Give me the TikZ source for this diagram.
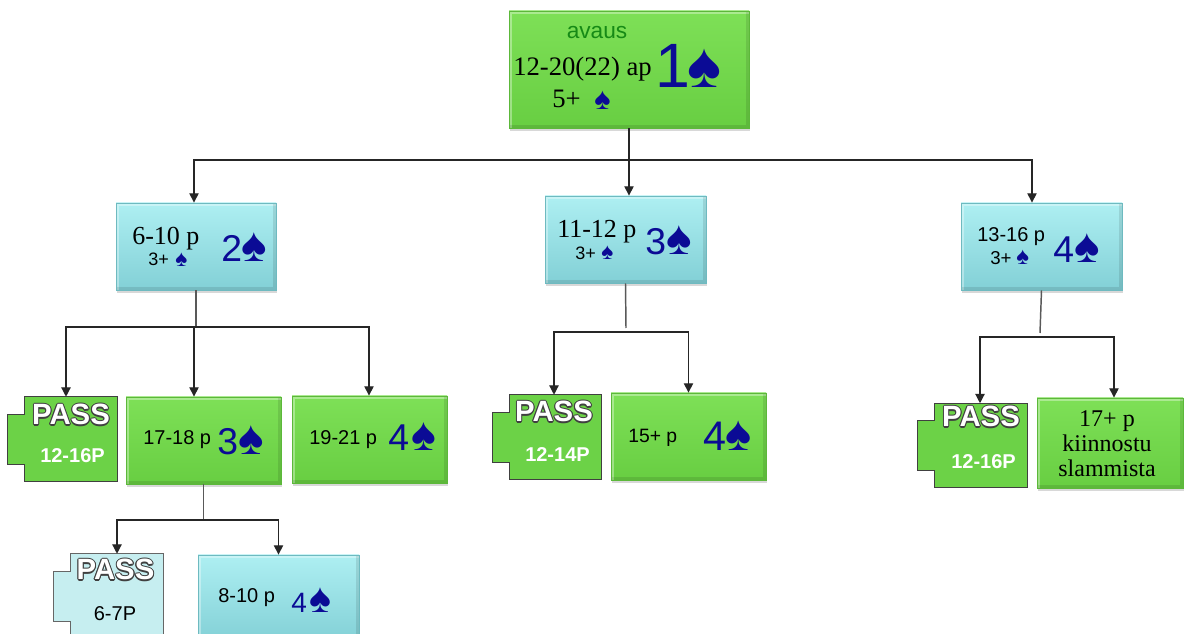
\documentclass[tikz,border=0pt]{standalone}
\usepackage{fontspec}
\setmainfont{Liberation Serif}
\setsansfont{Liberation Sans}
\newfontfamily\spd{Liberation Sans}
\usetikzlibrary{arrows.meta,shadows,calc}
\definecolor{gbt}{HTML}{7EE057}
\definecolor{gbb}{HTML}{68CE42}
\definecolor{gbd}{HTML}{5CB83A}
\definecolor{cbt}{HTML}{AEEFF2}
\definecolor{cbb}{HTML}{82D0D6}
\definecolor{cbd}{HTML}{6EBAC0}
\definecolor{pg}{HTML}{6CD247}
\definecolor{pc}{HTML}{C6EEF0}
\definecolor{bl}{HTML}{0B0B95}
\definecolor{av}{HTML}{168A16}
\definecolor{od}{HTML}{404040}
\newcommand\fsz[1]{\fontsize{#1}{#1}\selectfont}
\newcommand\outl[1]{\leavevmode\rlap{\color{od}\kern-0.8pt#1}\rlap{\color{od}\kern0.8pt#1}\rlap{\color{od}\raisebox{0.8pt}{#1}}\rlap{\color{od}\raisebox{-0.8pt}{#1}}\rlap{\color{od}\kern-0.6pt\raisebox{0.6pt}{#1}}\rlap{\color{od}\kern0.6pt\raisebox{0.6pt}{#1}}\rlap{\color{od}\kern-0.6pt\raisebox{-0.6pt}{#1}}\rlap{\color{od}\kern0.6pt\raisebox{-0.6pt}{#1}}{\color{white}#1}}
\newcommand\passpath[2]{\filldraw[#2] (#1.north west) -- (#1.north east) -- (#1.south east) -- (#1.south west) -- ++(0,-17) -- ++(-17,0) -- ++(0,-50) -- ++(17,0) -- cycle;}
\tikzset{
  bevel/.style={path picture={
    \draw[white, opacity=0.35, line width=4pt] (path picture bounding box.south west) -- (path picture bounding box.north west) -- (path picture bounding box.north east);
    \draw[black, opacity=0.10, line width=4pt] (path picture bounding box.north east) -- (path picture bounding box.south east) -- (path picture bounding box.south west);}},
  gbox/.style={rectangle, inner sep=0pt, top color=gbt, bottom color=gbb, draw=gbd, line width=0.6pt, bevel,
    drop shadow={shadow xshift=1pt, shadow yshift=-2pt, opacity=0.3}},
  cbox/.style={rectangle, inner sep=0pt, top color=cbt, bottom color=cbb, draw=cbd, line width=0.6pt, bevel,
    drop shadow={shadow xshift=1pt, shadow yshift=-2pt, opacity=0.3}},
  pbody/.style={rectangle, inner sep=0pt, minimum width=69pt, minimum height=63pt},
  pgreen/.style={fill=pg, draw=od, line width=0.8pt},
  pcyan/.style={fill=pc, draw=black!60, line width=0.8pt},
  tw/.style={inner sep=0pt, anchor=base west},
  tc/.style={inner sep=0pt, anchor=base},
  conn/.style={draw=black!85, line width=0.9pt, -{Triangle[length=7pt,width=7pt]}},
  stub/.style={draw=black!65, line width=1.1pt},
}
\begin{document}
\begin{tikzpicture}[x=0.75pt,y=-0.75pt]
\clip (0,0) rectangle (1186,634);
\fill[white] (0,0) rectangle (1186,634);
% boxes
\node[gbox, minimum width=180pt, minimum height=87.75pt] (top) at (629,69.5) {};
\node[cbox, minimum width=120pt, minimum height=65.25pt] (l2a) at (196,246.5) {};
\node[cbox, minimum width=120.75pt, minimum height=65.25pt] (l2b) at (625.5,239.5) {};
\node[cbox, minimum width=120.75pt, minimum height=65.25pt] (l2c) at (1041.5,246.5) {};
\node[gbox, minimum width=116.25pt, minimum height=65.25pt] (b1718) at (203.5,440.5) {};
\node[gbox, minimum width=116.25pt, minimum height=65.25pt] (b1921) at (369.5,439.5) {};
\node[gbox, minimum width=116.25pt, minimum height=65.25pt] (b15) at (688.5,436.5) {};
\node[gbox, minimum width=109.5pt, minimum height=67.5pt] (b17) at (1110,443) {};
\node[cbox, minimum width=120.75pt, minimum height=65.25pt] (b810) at (278.5,598.5) {};
\node[pbody] (passA) at (71,439) {};
\node[pbody] (passB) at (555.5,437) {};
\node[pbody] (passC) at (981,445.5) {};
\node[pbody] (passD) at (117,596) {};
\passpath{passA}{pgreen}
\passpath{passB}{pgreen}
\passpath{passC}{pgreen}
\passpath{passD}{pcyan}
% connectors
\coordinate (j0) at (629,160);
\draw[stub, draw=black!85, line width=0.9pt] (top.south) -- (j0);
\draw[conn] (j0) -| ($(l2a.north)+(-2,0)$);
\draw[conn] (j0) -| ($(l2b.north)+(3.5,0)$);
\draw[conn] (j0) -| ($(l2c.north)+(-9.5,0)$);
\coordinate (j1) at (196,327);
\draw[stub] (l2a.south) -- (j1);
\draw[conn] (j1) -| ($(passA.north)+(-5,0)$);
\draw[conn] (j1) -| ($(b1718.north)+(-9.5,0)$);
\draw[conn] (j1) -| ($(b1921.north)+(-0.5,0)$);
\coordinate (s2) at (626,328);
\coordinate (j2) at (626,332);
\draw[stub] (l2b.south) -- (s2);
\draw[conn] (j2) -| ($(passB.north)+(-1.5,0)$);
\draw[conn] (j2) -| (b15.north);
\coordinate (s3) at (1040,333);
\coordinate (j3) at (1040,337);
\draw[stub] (l2c.south) -- (s3);
\draw[conn] (j3) -| ($(passC.north)+(-1,0)$);
\draw[conn] (j3) -| ($(b17.north)+(4,0)$);
\coordinate (j4) at (203.5,520);
\draw[stub] (b1718.south) -- (j4);
\draw[conn] (j4) -| (passD.north);
\draw[conn] (j4) -| (b810.north);
% texts: top
\node[tc] (tav) at (597,39) {\sffamily\fsz{17pt}\color{av}avaus};
\node[tw] (t12) at (513,76) {\fsz{20pt}12-20(22) ap};
\node[tw] (t1) at (655,88) {\sffamily\fsz{47pt}\color{bl}1};
\node[tw] (s1) at (687,88) {\spd\fsz{48pt}\color{bl}♠};
\node[tw] (t5) at (552,108) {\fsz{20pt}5+};
\node[tw] (s5) at (594,110) {\spd\fsz{23pt}\color{bl}♠};
% l2a
\node[tw] (ta1) at (132,245) {\fsz{19.5pt}6-10 p};
\node[tw] (ta2) at (148,266) {\sffamily\fsz{13.5pt}3+};
\node[tw] (sa2) at (175,267) {\spd\fsz{17pt}\color{bl}♠};
\node[tw] (ta3) at (221,262) {\sffamily\fsz{28pt}\color{bl}2};
\node[tw] (sa3) at (241,262) {\spd\fsz{36pt}\color{bl}♠};
% l2b
\node[tw] (tb1) at (557,238) {\fsz{19.5pt}11-12 p};
\node[tw] (tb2) at (575,260) {\sffamily\fsz{13.5pt}3+};
\node[tw] (sb2) at (601,260) {\spd\fsz{17pt}\color{bl}♠};
\node[tw] (tb3) at (645,255) {\sffamily\fsz{28pt}\color{bl}3};
\node[tw] (sb3) at (666,255) {\spd\fsz{36pt}\color{bl}♠};
% l2c
\node[tw] (tc1) at (977,242) {\sffamily\fsz{15pt}13-16 p};
\node[tw] (tc2) at (990,265) {\sffamily\fsz{14pt}3+};
\node[tw] (sc2) at (1016,265) {\spd\fsz{18pt}\color{bl}♠};
\node[tw] (tc3) at (1053,263) {\sffamily\fsz{28pt}\color{bl}4};
\node[tw] (sc3) at (1074,263) {\spd\fsz{36pt}\color{bl}♠};
% level 3
\node[tw] (td1) at (143,445) {\sffamily\fsz{15pt}17-18 p};
\node[tw] (td2) at (217,455) {\sffamily\fsz{28pt}\color{bl}3};
\node[tw] (sd2) at (238,455) {\spd\fsz{36pt}\color{bl}♠};
\node[tw] (te1) at (309,445) {\sffamily\fsz{15pt}19-21 p};
\node[tw] (te2) at (388,451) {\sffamily\fsz{28pt}\color{bl}4};
\node[tw] (se2) at (411,451) {\spd\fsz{35pt}\color{bl}♠};
\node[tw] (tf1) at (628,443) {\sffamily\fsz{14.5pt}15+ p};
\node[tw] (tf2) at (703,451) {\sffamily\fsz{31pt}\color{bl}4};
\node[tw] (sf2) at (725,451) {\spd\fsz{37pt}\color{bl}♠};
\node[tc] (tg1) at (1107,427) {\fsz{18pt}17+ p};
\node[tc] (tg2) at (1107,452) {\fsz{18pt}kiinnostu};
\node[tc] (tg3) at (1107,477) {\fsz{18pt}slammista};
% level 4
\node[tw] (th1) at (218,603) {\sffamily\fsz{15pt}8-10 p};
\node[tw] (th2) at (291,612) {\sffamily\fsz{21pt}\color{bl}4};
\node[tw] (sh2) at (309,612) {\spd\fsz{31pt}\color{bl}♠};
% PASS texts
\node[tc] (pa1) at (71,425) {\sffamily\bfseries\fsz{22pt}\outl{PASS}};
\node[tc] (pa2) at (72.5,463) {\sffamily\bfseries\fsz{15pt}\color{white}12-16P};
\node[tc] (pb1) at (554,422) {\sffamily\bfseries\fsz{22pt}\outl{PASS}};
\node[tc] (pb2) at (557.5,462) {\sffamily\bfseries\fsz{15pt}\color{white}12-14P};
\node[tc] (pc1) at (981,427) {\sffamily\bfseries\fsz{22pt}\outl{PASS}};
\node[tc] (pc2) at (983.5,469) {\sffamily\bfseries\fsz{15pt}\color{white}12-16P};
\node[tc] (pd1) at (115.5,580) {\sffamily\bfseries\fsz{22pt}\outl{PASS}};
\node[tc] (pd2) at (115,620) {\sffamily\fsz{15pt}6-7P};
\end{tikzpicture}
\end{document}
